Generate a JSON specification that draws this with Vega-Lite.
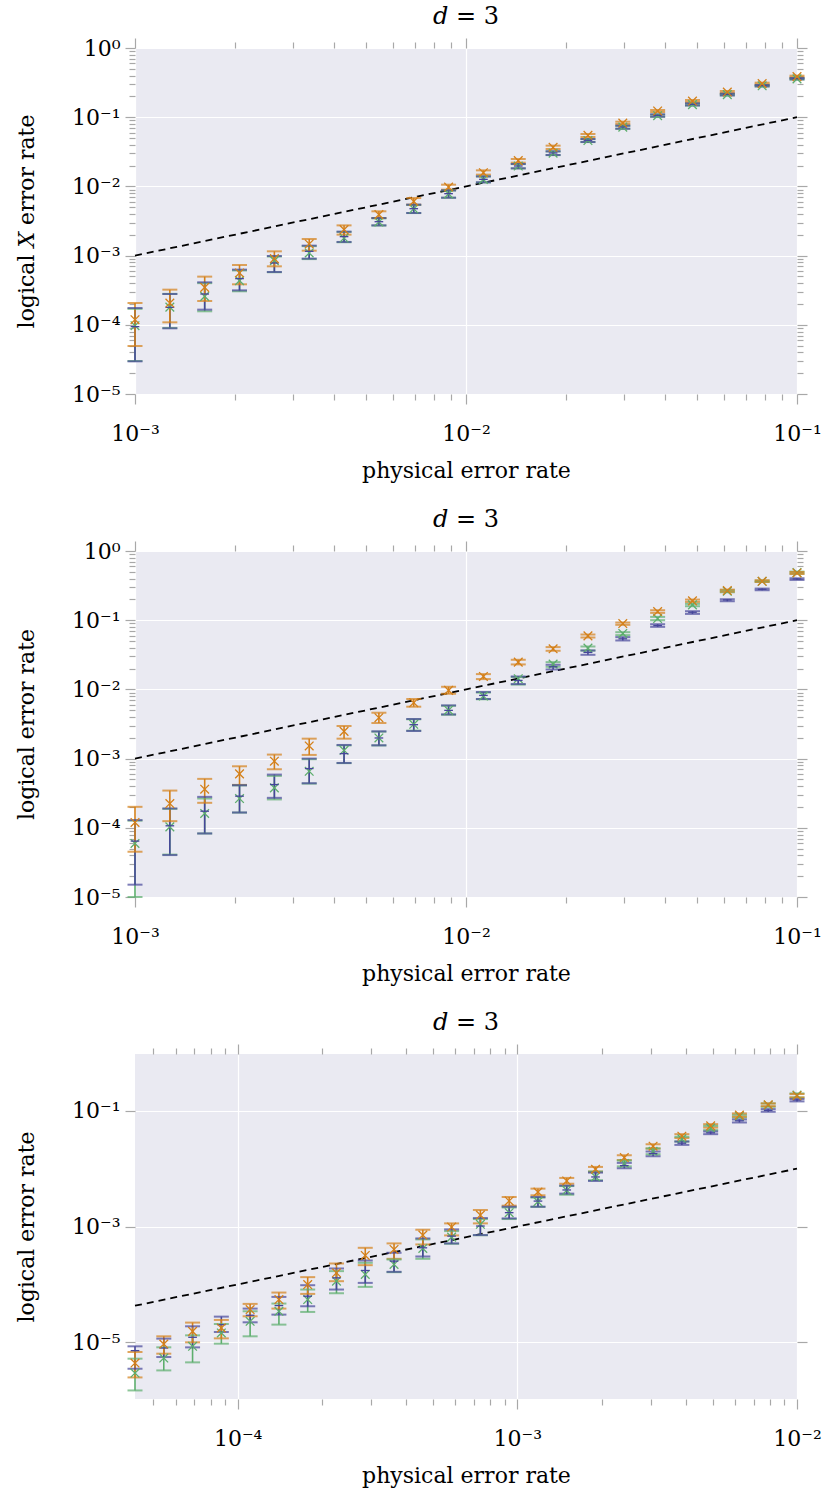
{
  "$schema": "https://vega.github.io/schema/vega-lite/v6.json",
  "padding": {"left": 15, "top": 5, "right": 5, "bottom": 5},
  "config": {
    "view": {"fill": "#EAEAF2", "stroke": null},
    "font": "DejaVu Serif",
    "axis": {"domain": false, "tickColor": "#a8a8a8", "tickWidth": 1.2, "gridColor": "#ffffff", "gridWidth": 1.2, "labelFont": "DejaVu Serif", "labelFontSize": 22, "labelColor": "#000000", "titleFont": "DejaVu Serif", "titleFontSize": 22, "titleFontWeight": "normal", "titleColor": "#000000", "labelOverlap": false, "labelFlush": false},
    "axisX": {"labelPadding": 19, "titlePadding": 16},
    "axisY": {"labelPadding": 5, "titlePadding": 33},
    "title": {"font": "DejaVu Serif", "fontSize": 24, "fontWeight": "normal", "color": "#000000", "offset": 8},
    "concat": {"spacing": 27}
  },
  "datasets": {
    "d12": [{"p": 0.001, "v": 0.001}, {"p": 0.1, "v": 0.1}],
    "d3": [{"p": 4.2955e-5, "v": 4.2955e-5}, {"p": 0.01, "v": 0.01}],
    "p1": [
      {"series": "green", "p": 0.001, "low": 3.0e-5, "mid": 9.7e-5, "high": 1.7e-4},
      {"series": "green", "p": 0.0012743, "low": 9.0e-5, "mid": 1.8e-4, "high": 2.8e-4},
      {"series": "green", "p": 0.0016238, "low": 1.567e-4, "mid": 2.576e-4, "high": 4.0e-4},
      {"series": "green", "p": 0.0020691, "low": 3.05e-4, "mid": 4.345e-4, "high": 6.1e-4},
      {"series": "green", "p": 0.0026367, "low": 5.75e-4, "mid": 8.45e-4, "high": 9.7e-4},
      {"series": "green", "p": 0.0033598, "low": 8.9e-4, "mid": 1.091e-3, "high": 1.37e-3},
      {"series": "green", "p": 0.0042813, "low": 1.56e-3, "mid": 1.795e-3, "high": 2.2e-3},
      {"series": "green", "p": 0.0054556, "low": 2.72e-3, "mid": 3.06e-3, "high": 3.45e-3},
      {"series": "green", "p": 0.0069519, "low": 4.12e-3, "mid": 4.75e-3, "high": 5.4e-3},
      {"series": "green", "p": 0.0088587, "low": 6.85e-3, "mid": 7.8e-3, "high": 8.7e-3},
      {"series": "green", "p": 0.011288, "low": 1.14e-2, "mid": 1.26e-2, "high": 1.39e-2},
      {"series": "green", "p": 0.014384, "low": 1.82e-2, "mid": 1.97e-2, "high": 2.1e-2},
      {"series": "green", "p": 0.01833, "low": 2.83e-2, "mid": 3.02e-2, "high": 3.2e-2},
      {"series": "green", "p": 0.023357, "low": 4.37e-2, "mid": 4.6e-2, "high": 4.82e-2},
      {"series": "green", "p": 0.029764, "low": 6.8e-2, "mid": 7.18e-2, "high": 7.5e-2},
      {"series": "green", "p": 0.037927, "low": 0.101, "mid": 0.105, "high": 0.109},
      {"series": "green", "p": 0.048329, "low": 0.147, "mid": 0.152, "high": 0.157},
      {"series": "green", "p": 0.061585, "low": 0.206, "mid": 0.212, "high": 0.217},
      {"series": "green", "p": 0.078476, "low": 0.278, "mid": 0.284, "high": 0.29},
      {"series": "green", "p": 0.1, "low": 0.35, "mid": 0.358, "high": 0.366},
      {"series": "blue", "p": 0.001, "low": 2.965e-5, "mid": 9.4e-5, "high": 1.75e-4},
      {"series": "blue", "p": 0.0012743, "low": 8.89e-5, "mid": 1.786e-4, "high": 2.786e-4},
      {"series": "blue", "p": 0.0016238, "low": 1.656e-4, "mid": 2.786e-4, "high": 4.111e-4},
      {"series": "blue", "p": 0.0020691, "low": 3.148e-4, "mid": 4.645e-4, "high": 6.27e-4},
      {"series": "blue", "p": 0.0026367, "low": 5.79e-4, "mid": 7.82e-4, "high": 9.86e-4},
      {"series": "blue", "p": 0.0033598, "low": 9.04e-4, "mid": 1.153e-3, "high": 1.393e-3},
      {"series": "blue", "p": 0.0042813, "low": 1.574e-3, "mid": 1.879e-3, "high": 2.218e-3},
      {"series": "blue", "p": 0.0054556, "low": 2.735e-3, "mid": 3.09e-3, "high": 3.491e-3},
      {"series": "blue", "p": 0.0069519, "low": 4.13e-3, "mid": 4.764e-3, "high": 5.445e-3},
      {"series": "blue", "p": 0.0088587, "low": 6.87e-3, "mid": 7.85e-3, "high": 8.77e-3},
      {"series": "blue", "p": 0.011288, "low": 1.146e-2, "mid": 1.265e-2, "high": 1.396e-2},
      {"series": "blue", "p": 0.014384, "low": 1.824e-2, "mid": 1.972e-2, "high": 2.109e-2},
      {"series": "blue", "p": 0.01833, "low": 2.844e-2, "mid": 3.041e-2, "high": 3.214e-2},
      {"series": "blue", "p": 0.023357, "low": 4.385e-2, "mid": 4.634e-2, "high": 4.842e-2},
      {"series": "blue", "p": 0.029764, "low": 6.82e-2, "mid": 7.21e-2, "high": 7.55e-2},
      {"series": "blue", "p": 0.037927, "low": 0.1019, "mid": 0.1064, "high": 0.1099},
      {"series": "blue", "p": 0.048329, "low": 0.1483, "mid": 0.1535, "high": 0.1585},
      {"series": "blue", "p": 0.061585, "low": 0.207, "mid": 0.2138, "high": 0.2188},
      {"series": "blue", "p": 0.078476, "low": 0.2793, "mid": 0.2858, "high": 0.2917},
      {"series": "blue", "p": 0.1, "low": 0.3524, "mid": 0.3606, "high": 0.3681},
      {"series": "orange", "p": 0.001, "low": 4.94e-5, "mid": 1.186e-4, "high": 2.065e-4},
      {"series": "orange", "p": 0.0012743, "low": 1.086e-4, "mid": 2.065e-4, "high": 3.22e-4},
      {"series": "orange", "p": 0.0016238, "low": 2.208e-4, "mid": 3.475e-4, "high": 4.966e-4},
      {"series": "orange", "p": 0.0020691, "low": 3.846e-4, "mid": 5.61e-4, "high": 7.31e-4},
      {"series": "orange", "p": 0.0026367, "low": 7.0e-4, "mid": 9.04e-4, "high": 1.153e-3},
      {"series": "orange", "p": 0.0033598, "low": 1.178e-3, "mid": 1.472e-3, "high": 1.738e-3},
      {"series": "orange", "p": 0.0042813, "low": 2.009e-3, "mid": 2.371e-3, "high": 2.735e-3},
      {"series": "orange", "p": 0.0054556, "low": 3.491e-3, "mid": 3.908e-3, "high": 4.365e-3},
      {"series": "orange", "p": 0.0069519, "low": 5.445e-3, "mid": 6.08e-3, "high": 6.79e-3},
      {"series": "orange", "p": 0.0088587, "low": 8.97e-3, "mid": 9.79e-3, "high": 1.059e-2},
      {"series": "orange", "p": 0.011288, "low": 1.479e-2, "mid": 1.578e-2, "high": 1.706e-2},
      {"series": "orange", "p": 0.014384, "low": 2.203e-2, "mid": 2.355e-2, "high": 2.489e-2},
      {"series": "orange", "p": 0.01833, "low": 3.467e-2, "mid": 3.673e-2, "high": 3.882e-2},
      {"series": "orange", "p": 0.023357, "low": 5.176e-2, "mid": 5.47e-2, "high": 5.715e-2},
      {"series": "orange", "p": 0.029764, "low": 7.98e-2, "mid": 8.24e-2, "high": 8.61e-2},
      {"series": "orange", "p": 0.037927, "low": 0.1189, "mid": 0.123, "high": 0.1271},
      {"series": "orange", "p": 0.048329, "low": 0.166, "mid": 0.1714, "high": 0.1774},
      {"series": "orange", "p": 0.061585, "low": 0.2239, "mid": 0.2312, "high": 0.2393},
      {"series": "orange", "p": 0.078476, "low": 0.2985, "mid": 0.3055, "high": 0.3155},
      {"series": "orange", "p": 0.1, "low": 0.3767, "mid": 0.3855, "high": 0.3981}
    ],
    "p2": [
      {"series": "green", "p": 0.001, "low": 1.0e-5, "mid": 5.943e-5, "high": 1.27e-4},
      {"series": "green", "p": 0.0012743, "low": 4.1e-5, "mid": 1.03e-4, "high": 1.88e-4},
      {"series": "green", "p": 0.0016238, "low": 8.28e-5, "mid": 1.611e-4, "high": 2.65e-4},
      {"series": "green", "p": 0.0020691, "low": 1.66e-4, "mid": 2.649e-4, "high": 4.1e-4},
      {"series": "green", "p": 0.0026367, "low": 2.57e-4, "mid": 3.776e-4, "high": 5.623e-4},
      {"series": "green", "p": 0.0033598, "low": 4.35e-4, "mid": 6.561e-4, "high": 9.8e-4},
      {"series": "green", "p": 0.0042813, "low": 8.6e-4, "mid": 1.318e-3, "high": 1.55e-3},
      {"series": "green", "p": 0.0054556, "low": 1.55e-3, "mid": 1.99e-3, "high": 2.45e-3},
      {"series": "green", "p": 0.0069519, "low": 2.54e-3, "mid": 3.13e-3, "high": 3.7e-3},
      {"series": "green", "p": 0.0088587, "low": 4.3e-3, "mid": 5.0e-3, "high": 5.8e-3},
      {"series": "green", "p": 0.011288, "low": 7.2e-3, "mid": 8.02e-3, "high": 9.0e-3},
      {"series": "green", "p": 0.014384, "low": 1.175e-2, "mid": 1.426e-2, "high": 1.507e-2},
      {"series": "green", "p": 0.01833, "low": 2.123e-2, "mid": 2.317e-2, "high": 2.477e-2},
      {"series": "green", "p": 0.023357, "low": 3.648e-2, "mid": 3.945e-2, "high": 4.169e-2},
      {"series": "green", "p": 0.029764, "low": 6.081e-2, "mid": 6.427e-2, "high": 6.714e-2},
      {"series": "green", "p": 0.037927, "low": 0.1, "mid": 0.1057, "high": 0.1117},
      {"series": "green", "p": 0.048329, "low": 0.1592, "mid": 0.1663, "high": 0.1722},
      {"series": "green", "p": 0.061585, "low": 0.2535, "mid": 0.2618, "high": 0.271},
      {"series": "green", "p": 0.078476, "low": 0.3573, "mid": 0.3648, "high": 0.3733},
      {"series": "green", "p": 0.1, "low": 0.471, "mid": 0.4864, "high": 0.5035},
      {"series": "blue", "p": 0.001, "low": 1.507e-5, "mid": 6.427e-5, "high": 1.291e-4},
      {"series": "blue", "p": 0.0012743, "low": 4.036e-5, "mid": 1.069e-4, "high": 1.901e-4},
      {"series": "blue", "p": 0.0016238, "low": 8.28e-5, "mid": 1.738e-4, "high": 2.799e-4},
      {"series": "blue", "p": 0.0020691, "low": 1.663e-4, "mid": 2.864e-4, "high": 4.121e-4},
      {"series": "blue", "p": 0.0026367, "low": 2.71e-4, "mid": 4.217e-4, "high": 5.875e-4},
      {"series": "blue", "p": 0.0033598, "low": 4.406e-4, "mid": 7.178e-4, "high": 1.0e-3},
      {"series": "blue", "p": 0.0042813, "low": 8.65e-4, "mid": 1.18e-3, "high": 1.574e-3},
      {"series": "blue", "p": 0.0054556, "low": 1.556e-3, "mid": 1.986e-3, "high": 2.477e-3},
      {"series": "blue", "p": 0.0069519, "low": 2.506e-3, "mid": 3.09e-3, "high": 3.733e-3},
      {"series": "blue", "p": 0.0088587, "low": 4.355e-3, "mid": 4.977e-3, "high": 5.875e-3},
      {"series": "blue", "p": 0.011288, "low": 7.261e-3, "mid": 8.185e-3, "high": 9.162e-3},
      {"series": "blue", "p": 0.014384, "low": 1.194e-2, "mid": 1.349e-2, "high": 1.538e-2},
      {"series": "blue", "p": 0.01833, "low": 1.941e-2, "mid": 2.123e-2, "high": 2.27e-2},
      {"series": "blue", "p": 0.023357, "low": 3.162e-2, "mid": 3.42e-2, "high": 3.648e-2},
      {"series": "blue", "p": 0.029764, "low": 5.093e-2, "mid": 5.383e-2, "high": 5.689e-2},
      {"series": "blue", "p": 0.037927, "low": 8.017e-2, "mid": 8.375e-2, "high": 8.75e-2},
      {"series": "blue", "p": 0.048329, "low": 0.1233, "mid": 0.1303, "high": 0.1349},
      {"series": "blue", "p": 0.061585, "low": 0.1879, "mid": 0.1963, "high": 0.2009},
      {"series": "blue", "p": 0.078476, "low": 0.271, "mid": 0.2799, "high": 0.2864},
      {"series": "blue", "p": 0.1, "low": 0.3819, "mid": 0.3945, "high": 0.4036},
      {"series": "orange", "p": 0.001, "low": 4.508e-5, "mid": 1.194e-4, "high": 2.009e-4},
      {"series": "orange", "p": 0.0012743, "low": 1.247e-4, "mid": 2.244e-4, "high": 3.451e-4},
      {"series": "orange", "p": 0.0016238, "low": 2.296e-4, "mid": 3.614e-4, "high": 5.093e-4},
      {"series": "orange", "p": 0.0020691, "low": 4.169e-4, "mid": 6.012e-4, "high": 7.745e-4},
      {"series": "orange", "p": 0.0026367, "low": 7.015e-4, "mid": 9.162e-4, "high": 1.143e-3},
      {"series": "orange", "p": 0.0033598, "low": 1.13e-3, "mid": 1.524e-3, "high": 1.941e-3},
      {"series": "orange", "p": 0.0042813, "low": 1.941e-3, "mid": 2.477e-3, "high": 2.958e-3},
      {"series": "orange", "p": 0.0054556, "low": 3.266e-3, "mid": 3.899e-3, "high": 4.603e-3},
      {"series": "orange", "p": 0.0069519, "low": 5.623e-3, "mid": 6.427e-3, "high": 7.261e-3},
      {"series": "orange", "p": 0.0088587, "low": 8.65e-3, "mid": 9.683e-3, "high": 1.091e-2},
      {"series": "orange", "p": 0.011288, "low": 1.409e-2, "mid": 1.538e-2, "high": 1.663e-2},
      {"series": "orange", "p": 0.014384, "low": 2.296e-2, "mid": 2.477e-2, "high": 2.679e-2},
      {"series": "orange", "p": 0.01833, "low": 3.614e-2, "mid": 3.864e-2, "high": 4.083e-2},
      {"series": "orange", "p": 0.023357, "low": 5.623e-2, "mid": 5.943e-2, "high": 6.209e-2},
      {"series": "orange", "p": 0.029764, "low": 8.57e-2, "mid": 8.954e-2, "high": 9.247e-2},
      {"series": "orange", "p": 0.037927, "low": 0.1276, "mid": 0.1334, "high": 0.1393},
      {"series": "orange", "p": 0.048329, "low": 0.1837, "mid": 0.1901, "high": 0.1986},
      {"series": "orange", "p": 0.061585, "low": 0.2588, "mid": 0.2679, "high": 0.2767},
      {"series": "orange", "p": 0.078476, "low": 0.3573, "mid": 0.3648, "high": 0.3776},
      {"series": "orange", "p": 0.1, "low": 0.4656, "mid": 0.4819, "high": 0.4977}
    ],
    "p3": [
      {"series": "green", "p": 4.2955e-5, "low": 1.476e-6, "mid": 2.944e-6, "high": 5.224e-6},
      {"series": "green", "p": 5.4441e-5, "low": 3.273e-6, "mid": 5.358e-6, "high": 8.204e-6},
      {"series": "green", "p": 6.8998e-5, "low": 4.508e-6, "mid": 8.531e-6, "high": 1.321e-5},
      {"series": "green", "p": 8.7448e-5, "low": 9.484e-6, "mid": 1.452e-5, "high": 2.075e-5},
      {"series": "green", "p": 0.00011083, "low": 1.271e-5, "mid": 2.312e-5, "high": 3.443e-5},
      {"series": "green", "p": 0.00014047, "low": 2.023e-5, "mid": 3.443e-5, "high": 4.677e-5},
      {"series": "green", "p": 0.00017803, "low": 3.35e-5, "mid": 5.483e-5, "high": 8.166e-5},
      {"series": "green", "p": 0.00022563, "low": 7.047e-5, "mid": 1.138e-4, "high": 1.698e-4},
      {"series": "green", "p": 0.00028596, "low": 9.078e-5, "mid": 1.486e-4, "high": 2.366e-4},
      {"series": "green", "p": 0.00036243, "low": 1.629e-4, "mid": 2.213e-4, "high": 2.698e-4},
      {"series": "green", "p": 0.00045934, "low": 2.773e-4, "mid": 4.188e-4, "high": 5.998e-4},
      {"series": "green", "p": 0.00058217, "low": 5.047e-4, "mid": 6.577e-4, "high": 8.356e-4},
      {"series": "green", "p": 0.00073784, "low": 7.08e-4, "mid": 1.096e-3, "high": 1.349e-3},
      {"series": "green", "p": 0.00093513, "low": 1.349e-3, "mid": 1.738e-3, "high": 2.138e-3},
      {"series": "green", "p": 0.0011852, "low": 2.188e-3, "mid": 2.692e-3, "high": 3.162e-3},
      {"series": "green", "p": 0.0015021, "low": 3.548e-3, "mid": 4.227e-3, "high": 5.012e-3},
      {"series": "green", "p": 0.0019037, "low": 6.31e-3, "mid": 7.244e-3, "high": 8.913e-3},
      {"series": "green", "p": 0.0024128, "low": 1.096e-2, "mid": 1.23e-2, "high": 1.38e-2},
      {"series": "green", "p": 0.003058, "low": 1.778e-2, "mid": 1.995e-2, "high": 2.239e-2},
      {"series": "green", "p": 0.0038757, "low": 2.951e-2, "mid": 3.273e-2, "high": 3.548e-2},
      {"series": "green", "p": 0.004912, "low": 4.624e-2, "mid": 5.012e-2, "high": 5.495e-2},
      {"series": "green", "p": 0.0062255, "low": 7.674e-2, "mid": 8.091e-2, "high": 8.531e-2},
      {"series": "green", "p": 0.0078902, "low": 0.1175, "mid": 0.1253, "high": 0.134},
      {"series": "green", "p": 0.01, "low": 0.1698, "mid": 0.1866, "high": 0.1995},
      {"series": "blue", "p": 4.2955e-5, "low": 3.499e-6, "mid": 7.194e-6, "high": 8.531e-6},
      {"series": "blue", "p": 5.4441e-5, "low": 5.572e-6, "mid": 7.98e-6, "high": 1.159e-5},
      {"series": "blue", "p": 6.8998e-5, "low": 8.185e-6, "mid": 1.222e-5, "high": 1.892e-5},
      {"series": "blue", "p": 8.7448e-5, "low": 1.51e-5, "mid": 2.018e-5, "high": 2.78e-5},
      {"series": "blue", "p": 0.00011083, "low": 2.218e-5, "mid": 2.938e-5, "high": 3.828e-5},
      {"series": "blue", "p": 0.00014047, "low": 3.013e-5, "mid": 4.315e-5, "high": 6.095e-5},
      {"series": "blue", "p": 0.00017803, "low": 4.198e-5, "mid": 6.266e-5, "high": 9.705e-5},
      {"series": "blue", "p": 0.00022563, "low": 8.166e-5, "mid": 1.3e-4, "high": 1.888e-4},
      {"series": "blue", "p": 0.00028596, "low": 1.064e-4, "mid": 1.742e-4, "high": 2.594e-4},
      {"series": "blue", "p": 0.00036243, "low": 1.652e-4, "mid": 2.529e-4, "high": 3.524e-4},
      {"series": "blue", "p": 0.00045934, "low": 3.041e-4, "mid": 4.295e-4, "high": 6.237e-4},
      {"series": "blue", "p": 0.00058217, "low": 5.117e-4, "mid": 6.839e-4, "high": 8.933e-4},
      {"series": "blue", "p": 0.00073784, "low": 7.129e-4, "mid": 1.021e-3, "high": 1.403e-3},
      {"series": "blue", "p": 0.00093513, "low": 1.384e-3, "mid": 1.738e-3, "high": 2.203e-3},
      {"series": "blue", "p": 0.0011852, "low": 2.203e-3, "mid": 2.754e-3, "high": 3.243e-3},
      {"series": "blue", "p": 0.0015021, "low": 3.707e-3, "mid": 4.285e-3, "high": 5.093e-3},
      {"series": "blue", "p": 0.0019037, "low": 6.138e-3, "mid": 7.194e-3, "high": 8.551e-3},
      {"series": "blue", "p": 0.0024128, "low": 1.016e-2, "mid": 1.13e-2, "high": 1.259e-2},
      {"series": "blue", "p": 0.003058, "low": 1.641e-2, "mid": 1.824e-2, "high": 1.977e-2},
      {"series": "blue", "p": 0.0038757, "low": 2.576e-2, "mid": 2.754e-2, "high": 2.944e-2},
      {"series": "blue", "p": 0.004912, "low": 3.945e-2, "mid": 4.159e-2, "high": 4.385e-2},
      {"series": "blue", "p": 0.0062255, "low": 6.281e-2, "mid": 6.714e-2, "high": 7.079e-2},
      {"series": "blue", "p": 0.0078902, "low": 9.616e-2, "mid": 0.1014, "high": 0.1069},
      {"series": "blue", "p": 0.01, "low": 0.1452, "mid": 0.1531, "high": 0.1592},
      {"series": "orange", "p": 4.2955e-5, "low": 2.477e-6, "mid": 4.385e-6, "high": 6.808e-6},
      {"series": "orange", "p": 5.4441e-5, "low": 6.368e-6, "mid": 9.354e-6, "high": 1.271e-5},
      {"series": "orange", "p": 6.8998e-5, "low": 1.0e-5, "mid": 1.549e-5, "high": 2.193e-5},
      {"series": "orange", "p": 8.7448e-5, "low": 1.172e-5, "mid": 1.77e-5, "high": 2.438e-5},
      {"series": "orange", "p": 0.00011083, "low": 2.818e-5, "mid": 3.681e-5, "high": 4.613e-5},
      {"series": "orange", "p": 0.00014047, "low": 3.828e-5, "mid": 5.483e-5, "high": 7.244e-5},
      {"series": "orange", "p": 0.00017803, "low": 6.871e-5, "mid": 9.977e-5, "high": 1.337e-4},
      {"series": "orange", "p": 0.00022563, "low": 1.138e-4, "mid": 1.589e-4, "high": 2.301e-4},
      {"series": "orange", "p": 0.00028596, "low": 2.153e-4, "mid": 3.17e-4, "high": 4.295e-4},
      {"series": "orange", "p": 0.00036243, "low": 2.773e-4, "mid": 4.027e-4, "high": 5.117e-4},
      {"series": "orange", "p": 0.00045934, "low": 4.909e-4, "mid": 7.129e-4, "high": 8.81e-4},
      {"series": "orange", "p": 0.00058217, "low": 7.031e-4, "mid": 9.795e-4, "high": 1.135e-3},
      {"series": "orange", "p": 0.00073784, "low": 1.135e-3, "mid": 1.581e-3, "high": 1.932e-3},
      {"series": "orange", "p": 0.00093513, "low": 2.296e-3, "mid": 2.767e-3, "high": 3.243e-3},
      {"series": "orange", "p": 0.0011852, "low": 3.467e-3, "mid": 3.954e-3, "high": 4.519e-3},
      {"series": "orange", "p": 0.0015021, "low": 5.495e-3, "mid": 6.138e-3, "high": 6.918e-3},
      {"series": "orange", "p": 0.0019037, "low": 8.913e-3, "mid": 9.772e-3, "high": 1.072e-2},
      {"series": "orange", "p": 0.0024128, "low": 1.413e-2, "mid": 1.556e-2, "high": 1.706e-2},
      {"series": "orange", "p": 0.003058, "low": 2.239e-2, "mid": 2.443e-2, "high": 2.649e-2},
      {"series": "orange", "p": 0.0038757, "low": 3.388e-2, "mid": 3.639e-2, "high": 3.945e-2},
      {"series": "orange", "p": 0.004912, "low": 5.129e-2, "mid": 5.495e-2, "high": 5.875e-2},
      {"series": "orange", "p": 0.0062255, "low": 7.943e-2, "mid": 8.414e-2, "high": 8.995e-2},
      {"series": "orange", "p": 0.0078902, "low": 0.1202, "mid": 0.1271, "high": 0.134},
      {"series": "orange", "p": 0.01, "low": 0.1698, "mid": 0.182, "high": 0.1945}
    ]
  },
  "vconcat": [
    {
      "title": "𝑑 = 3",
      "width": 662, "height": 346,
      "resolve": {"axis": {"x": "independent", "y": "independent"}},
      "layer": [
        {
          "data": {"name": "d12"},
          "mark": {"type": "line", "color": "#000000", "strokeDash": [7, 5], "strokeWidth": 1.8},
          "encoding": {
            "x": {"field": "p", "type": "quantitative", "scale": {"type": "log", "domain": [0.001, 0.1], "nice": false},
              "axis": {"orient": "bottom", "title": "physical error rate", "values": [0.001,0.002,0.003,0.004,0.005,0.006,0.007,0.008,0.009,0.01,0.02,0.03,0.04,0.05,0.06,0.07,0.08,0.09,0.1],
                "grid": true, "gridOpacity": {"condition": {"test": "abs(log(datum.value)/LN10 - round(log(datum.value)/LN10)) < 0.01", "value": 1}, "value": 0},
                "tickSize": {"condition": {"test": "abs(log(datum.value)/LN10 - round(log(datum.value)/LN10)) < 0.01", "value": 10}, "value": 6},
                "labelExpr": "abs(log(datum.value)/LN10 - round(log(datum.value)/LN10)) < 0.01 ? '10' + (round(log(datum.value)/LN10) < 0 ? '⁻' : '') + ['⁰','¹','²','³','⁴','⁵','⁶'][abs(round(log(datum.value)/LN10))] : ''"}},
            "y": {"field": "v", "type": "quantitative", "scale": {"type": "log", "domain": [1e-5, 1], "nice": false},
              "axis": {"orient": "left", "title": "logical 𝑋 error rate", "values": [1e-5,2e-5,3e-5,4e-5,5e-5,6e-5,7e-5,8e-5,9e-5,1e-4,2e-4,3e-4,4e-4,5e-4,6e-4,7e-4,8e-4,9e-4,0.001,0.002,0.003,0.004,0.005,0.006,0.007,0.008,0.009,0.01,0.02,0.03,0.04,0.05,0.06,0.07,0.08,0.09,0.1,0.2,0.3,0.4,0.5,0.6,0.7,0.8,0.9,1],
                "grid": true, "gridOpacity": {"condition": {"test": "abs(log(datum.value)/LN10 - round(log(datum.value)/LN10)) < 0.01", "value": 1}, "value": 0},
                "tickSize": {"condition": {"test": "abs(log(datum.value)/LN10 - round(log(datum.value)/LN10)) < 0.01", "value": 10}, "value": 6},
                "labelExpr": "abs(log(datum.value)/LN10 - round(log(datum.value)/LN10)) < 0.01 ? '10' + (round(log(datum.value)/LN10) < 0 ? '⁻' : '') + ['⁰','¹','²','³','⁴','⁵','⁶'][abs(round(log(datum.value)/LN10))] : ''"}}
          }
        },
        {
          "data": {"name": "p1"},
          "mark": {"type": "rule", "strokeWidth": 1.6},
          "encoding": {
            "x": {"field": "p", "type": "quantitative", "scale": {"type": "log", "domain": [0.001, 0.1], "nice": false},
              "axis": {"orient": "top", "title": null, "labels": false, "grid": false, "values": [0.001,0.002,0.003,0.004,0.005,0.006,0.007,0.008,0.009,0.01,0.02,0.03,0.04,0.05,0.06,0.07,0.08,0.09,0.1],
                "tickSize": {"condition": {"test": "abs(log(datum.value)/LN10 - round(log(datum.value)/LN10)) < 0.01", "value": 10}, "value": 6}}},
            "y": {"field": "low", "type": "quantitative", "scale": {"type": "log", "domain": [1e-5, 1], "nice": false},
              "axis": {"orient": "right", "title": null, "labels": false, "grid": false, "values": [1e-5,2e-5,3e-5,4e-5,5e-5,6e-5,7e-5,8e-5,9e-5,1e-4,2e-4,3e-4,4e-4,5e-4,6e-4,7e-4,8e-4,9e-4,0.001,0.002,0.003,0.004,0.005,0.006,0.007,0.008,0.009,0.01,0.02,0.03,0.04,0.05,0.06,0.07,0.08,0.09,0.1,0.2,0.3,0.4,0.5,0.6,0.7,0.8,0.9,1],
                "tickSize": {"condition": {"test": "abs(log(datum.value)/LN10 - round(log(datum.value)/LN10)) < 0.01", "value": 10}, "value": 6}}},
            "y2": {"field": "high"},
            "color": {"field": "series", "type": "nominal", "scale": {"domain": ["green", "blue", "orange"], "range": ["#5DAE6D", "#46469A", "#D4801A"]}, "legend": null}
          }
        },
        {
          "data": {"name": "p1"},
          "mark": {"type": "tick", "orient": "horizontal", "size": 15, "thickness": 2},
          "encoding": {
            "x": {"field": "p", "type": "quantitative", "scale": {"type": "log", "domain": [0.001, 0.1], "nice": false}, "axis": null},
            "y": {"field": "low", "type": "quantitative", "scale": {"type": "log", "domain": [1e-5, 1], "nice": false}, "axis": null},
            "color": {"field": "series", "type": "nominal", "scale": {"domain": ["green", "blue", "orange"], "range": ["#5DAE6D", "#46469A", "#D4801A"]}, "legend": null}
          }
        },
        {
          "data": {"name": "p1"},
          "mark": {"type": "tick", "orient": "horizontal", "size": 15, "thickness": 2},
          "encoding": {
            "x": {"field": "p", "type": "quantitative", "scale": {"type": "log", "domain": [0.001, 0.1], "nice": false}, "axis": null},
            "y": {"field": "high", "type": "quantitative", "scale": {"type": "log", "domain": [1e-5, 1], "nice": false}, "axis": null},
            "color": {"field": "series", "type": "nominal", "scale": {"domain": ["green", "blue", "orange"], "range": ["#5DAE6D", "#46469A", "#D4801A"]}, "legend": null}
          }
        },
        {
          "data": {"name": "p1"},
          "mark": {"type": "point", "filled": false, "strokeWidth": 1.3, "size": 75, "opacity": 1},
          "encoding": {
            "x": {"field": "p", "type": "quantitative", "scale": {"type": "log", "domain": [0.001, 0.1], "nice": false}, "axis": null},
            "y": {"field": "mid", "type": "quantitative", "scale": {"type": "log", "domain": [1e-5, 1], "nice": false}, "axis": null},
            "color": {"field": "series", "type": "nominal", "scale": {"domain": ["green", "blue", "orange"], "range": ["#5DAE6D", "#46469A", "#D4801A"]}, "legend": null},
            "shape": {"field": "series", "type": "nominal", "scale": {"domain": ["green", "blue", "orange"], "range": ["M-1,-1L1,1M-1,1L1,-1", "M-1,0L1,0", "M-1,-1L1,1M-1,1L1,-1"]}, "legend": null}
          }
        }
      ]
    },
    {
      "title": "𝑑 = 3",
      "width": 662, "height": 346,
      "resolve": {"axis": {"x": "independent", "y": "independent"}},
      "layer": [
        {
          "data": {"name": "d12"},
          "mark": {"type": "line", "color": "#000000", "strokeDash": [7, 5], "strokeWidth": 1.8},
          "encoding": {
            "x": {"field": "p", "type": "quantitative", "scale": {"type": "log", "domain": [0.001, 0.1], "nice": false},
              "axis": {"orient": "bottom", "title": "physical error rate", "values": [0.001,0.002,0.003,0.004,0.005,0.006,0.007,0.008,0.009,0.01,0.02,0.03,0.04,0.05,0.06,0.07,0.08,0.09,0.1],
                "grid": true, "gridOpacity": {"condition": {"test": "abs(log(datum.value)/LN10 - round(log(datum.value)/LN10)) < 0.01", "value": 1}, "value": 0},
                "tickSize": {"condition": {"test": "abs(log(datum.value)/LN10 - round(log(datum.value)/LN10)) < 0.01", "value": 10}, "value": 6},
                "labelExpr": "abs(log(datum.value)/LN10 - round(log(datum.value)/LN10)) < 0.01 ? '10' + (round(log(datum.value)/LN10) < 0 ? '⁻' : '') + ['⁰','¹','²','³','⁴','⁵','⁶'][abs(round(log(datum.value)/LN10))] : ''"}},
            "y": {"field": "v", "type": "quantitative", "scale": {"type": "log", "domain": [1e-5, 1], "nice": false},
              "axis": {"orient": "left", "title": "logical error rate", "values": [1e-5,2e-5,3e-5,4e-5,5e-5,6e-5,7e-5,8e-5,9e-5,1e-4,2e-4,3e-4,4e-4,5e-4,6e-4,7e-4,8e-4,9e-4,0.001,0.002,0.003,0.004,0.005,0.006,0.007,0.008,0.009,0.01,0.02,0.03,0.04,0.05,0.06,0.07,0.08,0.09,0.1,0.2,0.3,0.4,0.5,0.6,0.7,0.8,0.9,1],
                "grid": true, "gridOpacity": {"condition": {"test": "abs(log(datum.value)/LN10 - round(log(datum.value)/LN10)) < 0.01", "value": 1}, "value": 0},
                "tickSize": {"condition": {"test": "abs(log(datum.value)/LN10 - round(log(datum.value)/LN10)) < 0.01", "value": 10}, "value": 6},
                "labelExpr": "abs(log(datum.value)/LN10 - round(log(datum.value)/LN10)) < 0.01 ? '10' + (round(log(datum.value)/LN10) < 0 ? '⁻' : '') + ['⁰','¹','²','³','⁴','⁵','⁶'][abs(round(log(datum.value)/LN10))] : ''"}}
          }
        },
        {
          "data": {"name": "p2"},
          "mark": {"type": "rule", "strokeWidth": 1.6},
          "encoding": {
            "x": {"field": "p", "type": "quantitative", "scale": {"type": "log", "domain": [0.001, 0.1], "nice": false},
              "axis": {"orient": "top", "title": null, "labels": false, "grid": false, "values": [0.001,0.002,0.003,0.004,0.005,0.006,0.007,0.008,0.009,0.01,0.02,0.03,0.04,0.05,0.06,0.07,0.08,0.09,0.1],
                "tickSize": {"condition": {"test": "abs(log(datum.value)/LN10 - round(log(datum.value)/LN10)) < 0.01", "value": 10}, "value": 6}}},
            "y": {"field": "low", "type": "quantitative", "scale": {"type": "log", "domain": [1e-5, 1], "nice": false},
              "axis": {"orient": "right", "title": null, "labels": false, "grid": false, "values": [1e-5,2e-5,3e-5,4e-5,5e-5,6e-5,7e-5,8e-5,9e-5,1e-4,2e-4,3e-4,4e-4,5e-4,6e-4,7e-4,8e-4,9e-4,0.001,0.002,0.003,0.004,0.005,0.006,0.007,0.008,0.009,0.01,0.02,0.03,0.04,0.05,0.06,0.07,0.08,0.09,0.1,0.2,0.3,0.4,0.5,0.6,0.7,0.8,0.9,1],
                "tickSize": {"condition": {"test": "abs(log(datum.value)/LN10 - round(log(datum.value)/LN10)) < 0.01", "value": 10}, "value": 6}}},
            "y2": {"field": "high"},
            "color": {"field": "series", "type": "nominal", "scale": {"domain": ["green", "blue", "orange"], "range": ["#5DAE6D", "#46469A", "#D4801A"]}, "legend": null}
          }
        },
        {
          "data": {"name": "p2"},
          "mark": {"type": "tick", "orient": "horizontal", "size": 15, "thickness": 2},
          "encoding": {
            "x": {"field": "p", "type": "quantitative", "scale": {"type": "log", "domain": [0.001, 0.1], "nice": false}, "axis": null},
            "y": {"field": "low", "type": "quantitative", "scale": {"type": "log", "domain": [1e-5, 1], "nice": false}, "axis": null},
            "color": {"field": "series", "type": "nominal", "scale": {"domain": ["green", "blue", "orange"], "range": ["#5DAE6D", "#46469A", "#D4801A"]}, "legend": null}
          }
        },
        {
          "data": {"name": "p2"},
          "mark": {"type": "tick", "orient": "horizontal", "size": 15, "thickness": 2},
          "encoding": {
            "x": {"field": "p", "type": "quantitative", "scale": {"type": "log", "domain": [0.001, 0.1], "nice": false}, "axis": null},
            "y": {"field": "high", "type": "quantitative", "scale": {"type": "log", "domain": [1e-5, 1], "nice": false}, "axis": null},
            "color": {"field": "series", "type": "nominal", "scale": {"domain": ["green", "blue", "orange"], "range": ["#5DAE6D", "#46469A", "#D4801A"]}, "legend": null}
          }
        },
        {
          "data": {"name": "p2"},
          "mark": {"type": "point", "filled": false, "strokeWidth": 1.3, "size": 75, "opacity": 1},
          "encoding": {
            "x": {"field": "p", "type": "quantitative", "scale": {"type": "log", "domain": [0.001, 0.1], "nice": false}, "axis": null},
            "y": {"field": "mid", "type": "quantitative", "scale": {"type": "log", "domain": [1e-5, 1], "nice": false}, "axis": null},
            "color": {"field": "series", "type": "nominal", "scale": {"domain": ["green", "blue", "orange"], "range": ["#5DAE6D", "#46469A", "#D4801A"]}, "legend": null},
            "shape": {"field": "series", "type": "nominal", "scale": {"domain": ["green", "blue", "orange"], "range": ["M-1,-1L1,1M-1,1L1,-1", "M-1,0L1,0", "M-1,-1L1,1M-1,1L1,-1"]}, "legend": null}
          }
        }
      ]
    },
    {
      "title": "𝑑 = 3",
      "width": 662, "height": 345,
      "resolve": {"axis": {"x": "independent", "y": "independent"}},
      "layer": [
        {
          "data": {"name": "d3"},
          "mark": {"type": "line", "color": "#000000", "strokeDash": [7, 5], "strokeWidth": 1.8},
          "encoding": {
            "x": {"field": "p", "type": "quantitative", "scale": {"type": "log", "domain": [4.2955e-5, 0.01], "nice": false},
              "axis": {"orient": "bottom", "title": "physical error rate", "values": [5e-5,6e-5,7e-5,8e-5,9e-5,1e-4,2e-4,3e-4,4e-4,5e-4,6e-4,7e-4,8e-4,9e-4,0.001,0.002,0.003,0.004,0.005,0.006,0.007,0.008,0.009,0.01],
                "grid": true, "gridOpacity": {"condition": {"test": "abs(log(datum.value)/LN10 - round(log(datum.value)/LN10)) < 0.01", "value": 1}, "value": 0},
                "tickSize": {"condition": {"test": "abs(log(datum.value)/LN10 - round(log(datum.value)/LN10)) < 0.01", "value": 10}, "value": 6},
                "labelExpr": "abs(log(datum.value)/LN10 - round(log(datum.value)/LN10)) < 0.01 ? '10' + (round(log(datum.value)/LN10) < 0 ? '⁻' : '') + ['⁰','¹','²','³','⁴','⁵','⁶'][abs(round(log(datum.value)/LN10))] : ''"}},
            "y": {"field": "v", "type": "quantitative", "scale": {"type": "log", "domain": [1.05e-6, 0.957], "nice": false},
              "axis": {"orient": "left", "title": "logical error rate", "values": [1e-5, 0.001, 0.1], "grid": true, "tickSize": 10,
                "labelExpr": "'10' + (round(log(datum.value)/LN10) < 0 ? '⁻' : '') + ['⁰','¹','²','³','⁴','⁵','⁶'][abs(round(log(datum.value)/LN10))]"}}
          }
        },
        {
          "data": {"name": "p3"},
          "mark": {"type": "rule", "strokeWidth": 1.6},
          "encoding": {
            "x": {"field": "p", "type": "quantitative", "scale": {"type": "log", "domain": [4.2955e-5, 0.01], "nice": false},
              "axis": {"orient": "top", "title": null, "labels": false, "grid": false, "values": [5e-5,6e-5,7e-5,8e-5,9e-5,1e-4,2e-4,3e-4,4e-4,5e-4,6e-4,7e-4,8e-4,9e-4,0.001,0.002,0.003,0.004,0.005,0.006,0.007,0.008,0.009,0.01],
                "tickSize": {"condition": {"test": "abs(log(datum.value)/LN10 - round(log(datum.value)/LN10)) < 0.01", "value": 10}, "value": 6}}},
            "y": {"field": "low", "type": "quantitative", "scale": {"type": "log", "domain": [1.05e-6, 0.957], "nice": false},
              "axis": {"orient": "right", "title": null, "labels": false, "grid": false, "values": [1e-5, 0.001, 0.1], "tickSize": 10}},
            "y2": {"field": "high"},
            "color": {"field": "series", "type": "nominal", "scale": {"domain": ["green", "blue", "orange"], "range": ["#5DAE6D", "#46469A", "#D4801A"]}, "legend": null}
          }
        },
        {
          "data": {"name": "p3"},
          "mark": {"type": "tick", "orient": "horizontal", "size": 15, "thickness": 2},
          "encoding": {
            "x": {"field": "p", "type": "quantitative", "scale": {"type": "log", "domain": [4.2955e-5, 0.01], "nice": false}, "axis": null},
            "y": {"field": "low", "type": "quantitative", "scale": {"type": "log", "domain": [1.05e-6, 0.957], "nice": false}, "axis": null},
            "color": {"field": "series", "type": "nominal", "scale": {"domain": ["green", "blue", "orange"], "range": ["#5DAE6D", "#46469A", "#D4801A"]}, "legend": null}
          }
        },
        {
          "data": {"name": "p3"},
          "mark": {"type": "tick", "orient": "horizontal", "size": 15, "thickness": 2},
          "encoding": {
            "x": {"field": "p", "type": "quantitative", "scale": {"type": "log", "domain": [4.2955e-5, 0.01], "nice": false}, "axis": null},
            "y": {"field": "high", "type": "quantitative", "scale": {"type": "log", "domain": [1.05e-6, 0.957], "nice": false}, "axis": null},
            "color": {"field": "series", "type": "nominal", "scale": {"domain": ["green", "blue", "orange"], "range": ["#5DAE6D", "#46469A", "#D4801A"]}, "legend": null}
          }
        },
        {
          "data": {"name": "p3"},
          "mark": {"type": "point", "filled": false, "strokeWidth": 1.3, "size": 75, "opacity": 1},
          "encoding": {
            "x": {"field": "p", "type": "quantitative", "scale": {"type": "log", "domain": [4.2955e-5, 0.01], "nice": false}, "axis": null},
            "y": {"field": "mid", "type": "quantitative", "scale": {"type": "log", "domain": [1.05e-6, 0.957], "nice": false}, "axis": null},
            "color": {"field": "series", "type": "nominal", "scale": {"domain": ["green", "blue", "orange"], "range": ["#5DAE6D", "#46469A", "#D4801A"]}, "legend": null},
            "shape": {"field": "series", "type": "nominal", "scale": {"domain": ["green", "blue", "orange"], "range": ["M-1,-1L1,1M-1,1L1,-1", "M-1,0L1,0", "M-1,-1L1,1M-1,1L1,-1"]}, "legend": null}
          }
        }
      ]
    }
  ]
}
